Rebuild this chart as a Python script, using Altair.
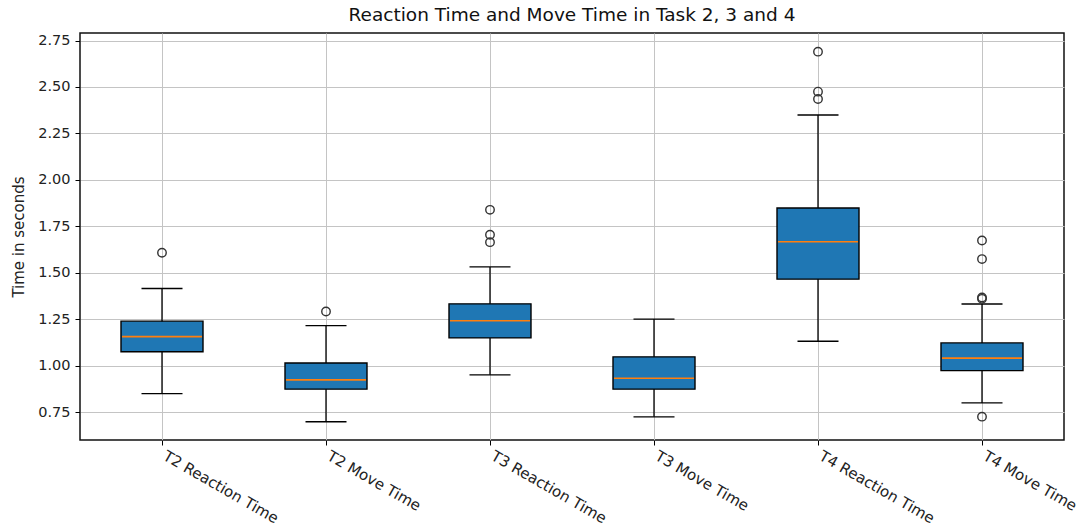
import altair as alt
import pandas as pd

# Box-plot summary statistics per measurement (seconds)
labels = ["T2 Reaction Time", "T2 Move Time", "T3 Reaction Time",
          "T3 Move Time", "T4 Reaction Time", "T4 Move Time"]
whisker_low = [0.850, 0.699, 0.951, 0.725, 1.132, 0.800]
q1 = [1.075, 0.874, 1.150, 0.874, 1.466, 0.974]
median = [1.157, 0.924, 1.242, 0.933, 1.667, 1.041]
q3 = [1.240, 1.015, 1.333, 1.048, 1.849, 1.123]
whisker_high = [1.416, 1.216, 1.532, 1.251, 2.349, 1.332]

# Points beyond the whiskers
outlier_labels = ["T2 Reaction Time", "T2 Move Time",
                  "T3 Reaction Time", "T3 Reaction Time", "T3 Reaction Time",
                  "T4 Reaction Time", "T4 Reaction Time", "T4 Reaction Time",
                  "T4 Move Time", "T4 Move Time", "T4 Move Time",
                  "T4 Move Time", "T4 Move Time"]
outlier_values = [1.608, 1.292,
                  1.839, 1.705, 1.665,
                  2.690, 2.475, 2.435,
                  1.674, 1.574, 1.367, 1.360, 0.726]

y_ticks = [0.75, 1.00, 1.25, 1.50, 1.75, 2.00, 2.25, 2.50, 2.75]

stats = pd.DataFrame({
    "label": labels, "lo": whisker_low, "q1": q1, "med": median,
    "q3": q3, "hi": whisker_high,
})
fliers = pd.DataFrame({"label": outlier_labels, "value": outlier_values})

FONT = "DejaVu Sans"
GRID = "#c4c4c4"
INK = "#222222"

x_enc = alt.X(
    "label:N", sort=labels,
    scale=alt.Scale(domain=labels, paddingInner=0, paddingOuter=0),
    axis=alt.Axis(
        title=None, bandPosition=0.5, grid=True, gridColor=GRID,
        gridWidth=1, tickColor="black", tickSize=5, domain=False,
        labelAngle=30, labelAlign="left", labelBaseline="top",
        labelOffset=6, labelPadding=3, labelFont=FONT, labelFontSize=15,
        labelColor=INK, labelOverlap=False, labelLimit=300,
    ),
)

y_scale = alt.Scale(domain=[0.6005, 2.7905], nice=False, zero=False)
y_axis = alt.Axis(
    title="Time in seconds", values=y_ticks, format=".2f", grid=True,
    gridColor=GRID, gridWidth=1, tickColor="black", tickSize=5,
    domain=False, labelFont=FONT, labelFontSize=14.5, labelColor=INK,
    labelPadding=5, titleFont=FONT, titleFontSize=15,
    titleFontWeight="normal", titleColor=INK,
    titleX=-62, titleY=203.5, titleAngle=270, titleAlign="center",
    titleBaseline="middle",
)

base = alt.Chart(stats).encode(x=x_enc)

whiskers = base.mark_rule(color="black", strokeWidth=1.3, opacity=1).encode(
    y=alt.Y("lo:Q", scale=y_scale, axis=y_axis), y2="hi:Q"
)
boxes = base.mark_bar(
    size=82, color="#1f77b4", stroke="black", strokeWidth=1.4, opacity=1
).encode(y="q1:Q", y2="q3:Q")
medians = base.mark_tick(
    size=80, thickness=1.6, color="#ff7f0e", opacity=1
).encode(y="med:Q")
caps_low = base.mark_tick(
    size=41, thickness=1.4, color="black", opacity=1
).encode(y="lo:Q")
caps_high = base.mark_tick(
    size=41, thickness=1.4, color="black", opacity=1
).encode(y="hi:Q")
outliers = alt.Chart(fliers).mark_point(
    shape="circle", size=72, filled=False, color="#333333",
    strokeWidth=1.4, opacity=1
).encode(x=alt.X("label:N", sort=labels), y="value:Q")

chart = alt.layer(
    whiskers, boxes, medians, caps_low, caps_high, outliers
).properties(
    width=984, height=407,
    background="white",
    title=alt.TitleParams(
        "Reaction Time and Move Time in Task 2, 3 and 4",
        font=FONT, fontSize=18.5, fontWeight="normal", color="#111111",
        anchor="middle", offset=8,
    ),
    autosize=alt.AutoSizeParams(type="none"),
    padding={"left": 80, "top": 33, "right": 22, "bottom": 91},
).configure_view(
    stroke="#111111", strokeWidth=1.5
)

chart.save("out.html", embed_options={"renderer": "svg", "actions": False})
